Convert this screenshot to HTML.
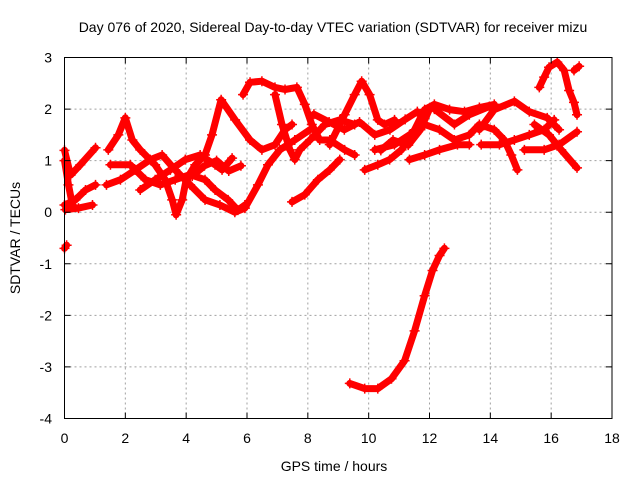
<!DOCTYPE html>
<html><head><meta charset="utf-8"><style>
html,body{margin:0;padding:0;background:#fff;}
svg{display:block;font-family:"Liberation Sans",sans-serif;}
</style></head><body>
<svg id="chart" width="640" height="480" viewBox="0 0 640 480">
<text x="333" y="32" font-size="14" text-anchor="middle" fill="#000">Day 076 of 2020, Sidereal Day-to-day VTEC variation (SDTVAR) for receiver mizu</text>
<text x="334" y="471" font-size="14" text-anchor="middle">GPS time / hours</text>
<text transform="translate(20,238) rotate(-90)" font-size="14" text-anchor="middle">SDTVAR / TECUs</text>
<g id="grid"></g>
<g id="marks"></g>
<rect x="64.5" y="57.5" width="547.5" height="361" fill="none" stroke="#000" stroke-width="1"/>
<g id="ticks"></g>
</svg>
<script>
const xTicks=[0,2,4,6,8,10,12,14,16,18];
const yTicks=[-4,-3,-2,-1,0,1,2,3];
const arc1=[[0,1.2],[0.2,0.72],[0.52,0.92],[1.02,1.25]];
const arc2=[[0,0.14],[0.36,0.24],[0.69,0.43],[1.02,0.53]];
const arc3=[[0.03,0.05],[0.46,0.08],[0.92,0.14]];
const arc4=[[0,1.0],[0.13,0.53],[0.26,0.14]];
const arc5=[[0,-0.7],[0.07,-0.64]];
const arc6=[[1.44,1.21],[1.77,1.5],[2.0,1.83],[2.23,1.4],[2.49,1.21],[2.98,0.92],[3.31,0.63],[3.54,0.24],[3.67,-0.05],[3.87,0.24],[4.0,0.63],[4.3,0.92],[4.62,1.11],[4.85,1.5],[5.15,2.18],[5.61,1.79],[6.1,1.4],[6.49,1.21],[6.92,1.31],[7.25,1.6],[7.48,1.7]];
const arc7=[[1.38,0.53],[1.84,0.63],[2.33,0.82],[2.82,1.02],[3.21,1.11],[3.64,0.82],[4.13,0.53],[4.62,0.24],[5.11,0.14],[5.6,0.0],[5.93,0.08],[6.36,0.53],[6.69,0.92],[7.08,1.21],[7.57,1.4],[8.07,1.6]];
const arc8=[[1.51,0.92],[2.16,0.92],[2.66,0.63],[3.15,0.53],[3.64,0.63],[4.13,0.73],[4.62,0.63],[4.95,0.43],[5.38,0.24],[5.7,0.04],[5.93,0.14]];
const arc9=[[2.49,0.43],[2.98,0.63],[3.48,0.82],[3.97,1.02],[4.46,1.11],[4.95,0.92],[5.18,0.82],[5.51,1.05]];
const arc10=[[5.87,2.28],[6.1,2.52],[6.49,2.54],[6.92,2.42],[7.25,2.38],[7.64,2.42],[7.9,2.09],[8.13,1.7],[8.39,1.4],[8.72,1.4],[9.21,1.21],[9.54,1.11]];
const arc11=[[6.92,2.28],[7.15,1.7],[7.41,1.21],[7.57,1.02],[7.74,1.21],[8.07,1.4],[8.56,1.7],[9.05,1.79],[9.54,1.7]];
const arc12=[[9.38,-3.32],[9.87,-3.42],[10.3,-3.42],[10.75,-3.23],[11.18,-2.88],[11.51,-2.3],[11.84,-1.62],[12.1,-1.13],[12.33,-0.84],[12.49,-0.7]];
const arc13=[[7.48,0.2],[7.9,0.34],[8.33,0.63],[8.72,0.82],[9.05,1.02]];
const arc14=[[8.72,1.31],[9.21,1.89],[9.54,2.28],[9.77,2.54],[10.03,2.28],[10.3,1.79],[10.52,1.7],[10.85,1.79]];
const arc15=[[9.87,0.82],[10.3,0.92],[10.69,1.02],[11.08,1.21],[11.51,1.6],[11.84,1.99],[12.16,2.09],[12.66,1.99],[13.15,1.95],[13.64,2.03],[14.13,2.09]];
const arc16=[[10.2,1.21],[10.85,1.31],[11.34,1.5],[11.84,1.7],[12.33,1.6],[12.82,1.4],[13.31,1.5],[13.64,1.7],[14.13,1.6],[14.46,1.4],[14.69,1.11],[14.89,0.82]];
const arc17=[[11.34,1.02],[11.84,1.11],[12.33,1.21],[12.92,1.31],[13.31,1.31]];
const arc18=[[13.64,1.6],[14.13,1.99],[14.79,2.15],[15.28,1.95],[15.87,1.83],[16.26,1.6]];
const arc19=[[13.7,1.31],[14.3,1.31],[14.79,1.4],[15.28,1.5],[15.77,1.6],[16.1,1.79]];
const arc20=[[15.61,2.42],[15.77,2.62],[15.93,2.81],[16.2,2.91],[16.43,2.75],[16.59,2.36],[16.75,2.13],[16.85,1.89]];
const arc21=[[16.75,2.75],[16.92,2.83]];
const arc22=[[15.12,1.21],[15.77,1.21],[16.26,1.31],[16.85,1.56]];
const arc23=[[15.45,1.7],[15.93,1.5],[16.33,1.21],[16.85,0.86]];
const arc24=[[12.16,2.0],[12.82,1.7],[13.31,1.89],[13.97,2.05]];
const arc25=[[8.2,1.9],[8.7,1.75],[9.2,1.6],[9.7,1.75],[10.2,1.5],[10.7,1.6],[11.2,1.8],[11.6,1.95]];
const arc26=[[10.4,1.2],[10.8,1.4],[11.3,1.3],[11.7,1.6],[12.0,2.0]];
const arc27=[[4.2,0.7],[4.6,0.9],[5.0,1.0],[5.4,0.8],[5.8,0.9]];
const series=[arc1,arc2,arc3,arc4,arc5,arc6,arc7,arc8,arc9,arc10,arc11,arc12,arc13,arc14,arc15,arc16,arc17,arc18,arc19,arc20,arc21,arc22,arc23,arc24,arc25,arc26,arc27];

const NS='http://www.w3.org/2000/svg';
const X0=64.5,X1=612,Y0=418.5,Y1=57.5;
function sx(t){return X0+(t-0)/(18-0)*(X1-X0);}
function sy(v){return Y0-(v-(-4))/(3-(-4))*(Y0-Y1);}
function mk(tag,attrs,parent){const e=document.createElementNS(NS,tag);for(const k in attrs)e.setAttribute(k,attrs[k]);parent.appendChild(e);return e;}
const grid=document.getElementById('grid'),ticks=document.getElementById('ticks'),marks=document.getElementById('marks');
xTicks.forEach(t=>{
  const x=sx(t);
  if(t>0&&t<18){const g=mk('line',{x1:x,x2:x,y1:Y1,y2:Y0,stroke:'#a0a0a0','stroke-dasharray':'2,3'},grid);
  
  }
  const tk=mk('path',{d:`M${x},${Y0}v-6M${x},${Y1}v6`,stroke:'#000'},ticks);
  
  
  const l=mk('text',{x:x,y:443,'font-size':14,'text-anchor':'middle'},ticks);l.textContent=t;
  
  
});
yTicks.forEach(v=>{
  const y=sy(v);
  if(v>-4&&v<3){const g=mk('line',{x1:X0,x2:X1,y1:y,y2:y,stroke:'#a0a0a0','stroke-dasharray':'2,3'},grid);
  
  }
  const tk=mk('path',{d:`M${X0},${y}h6M${X1},${y}h-6`,stroke:'#000'},ticks);
  
  
  const l=mk('text',{x:52,y:y+5,'font-size':14,'text-anchor':'end'},ticks);l.textContent=v;
  
  
});
series.forEach((s,i)=>{
  const pts=s.map(p=>sx(p[0]).toFixed(1)+','+sy(p[1]).toFixed(1)).join(' ');
  const pl=mk('polyline',{points:pts,fill:'none',stroke:'#ff0000','stroke-width':7,'stroke-linejoin':'round','stroke-linecap':'round'},marks);
  
  
  s.forEach(p=>{
    const x=sx(p[0]),y=sy(p[1]);
    const m=mk('path',{d:`M${x-5},${y}h10M${x},${y-5}v10`,stroke:'#ff0000','stroke-width':1.5},marks);
    
    
  });
});
</script>
</body></html>
